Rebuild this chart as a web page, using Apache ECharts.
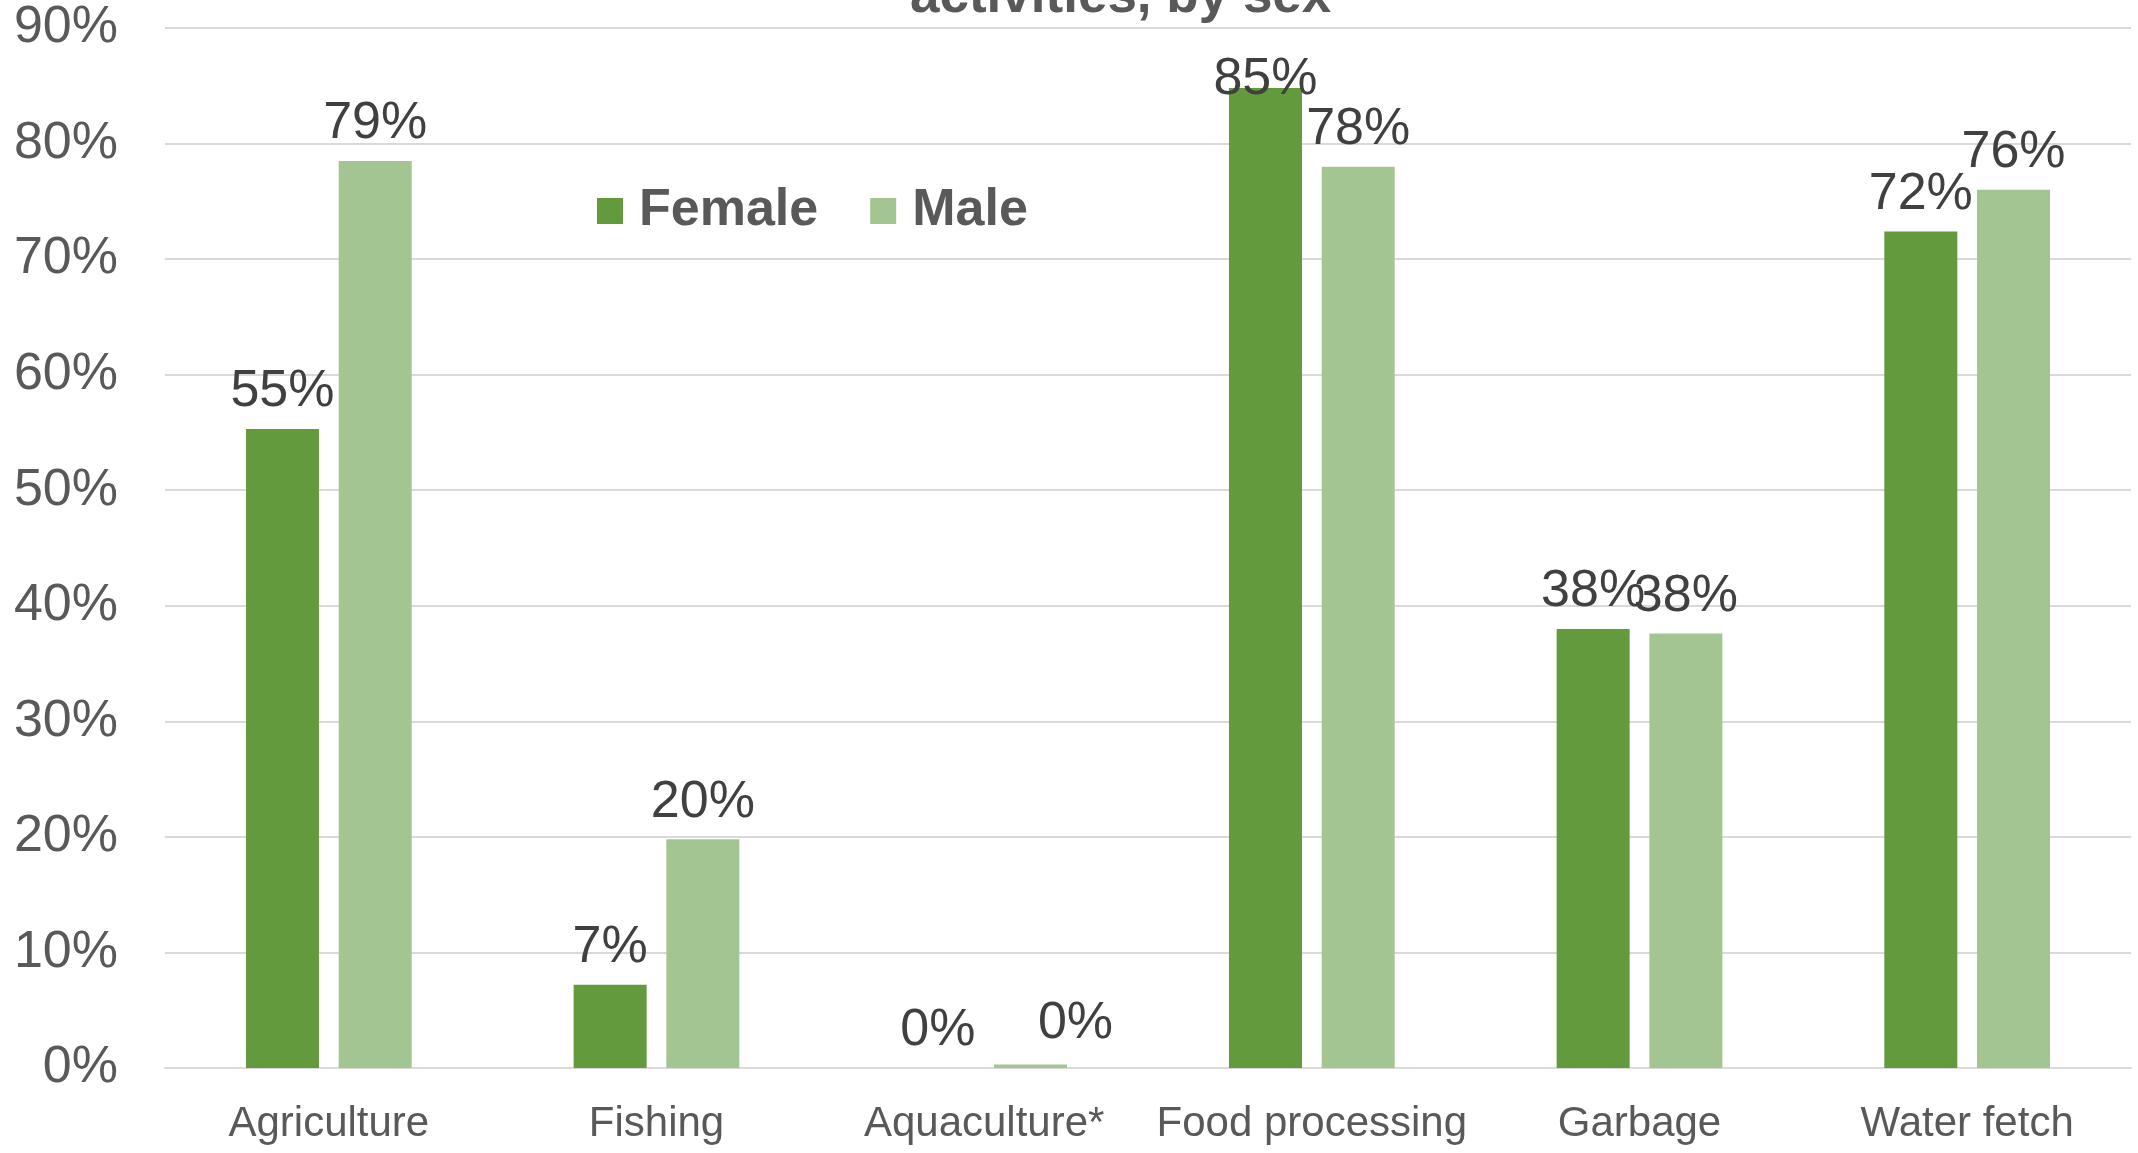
<!DOCTYPE html>
<html>
<head>
<meta charset="utf-8">
<script src="https://cdn.jsdelivr.net/npm/echarts@6/dist/echarts.min.js"></script>
<style>
  html, body { margin: 0; padding: 0; background: #fff; }
  #chart { width: 2138px; height: 1153px; }
</style>
</head>
<body>
<div id="chart"></div>
<script>
const categories = ['Agriculture', 'Fishing', 'Aquaculture*', 'Food processing', 'Garbage', 'Water fetch']
const femaleValues = [55.3, 7.2, 0, 84.8, 38.0, 72.4]
const maleValues = [78.5, 19.8, 0.3, 78.0, 37.6, 76.0]
const yTicks = [0, 10, 20, 30, 40, 50, 60, 70, 80, 90]

const FONT = '"Liberation Sans", Arial, sans-serif'
const AXIS_GREY = '#595959'
const GRID_GREY = '#d9d9d9'

// a couple of labels were nudged by hand in the original chart
const femaleLabelOffsets = { 3: [0, 29] }
const maleLabelOffsets = { 2: [45, -4] }

function withOffsets(values, offsets) {
  return values.map((v, i) => {
    if (!offsets[i]) return v
    return { value: v, label: { offset: offsets[i] } }
  })
}

function barSeries(name, values, color, offsets) {
  return {
    name,
    type: 'bar',
    data: withOffsets(values, offsets),
    barWidth: 73,
    barGap: '27%',
    itemStyle: { color },
    label: {
      show: true,
      position: 'top',
      distance: 11,
      color: '#404040',
      fontFamily: FONT,
      fontSize: 52,
      formatter: p => Math.round(p.value) + '%'
    }
  }
}

function buildOption() {
  return {
    backgroundColor: '#ffffff',
    animation: false,
    title: {
      text: 'activities, by sex',
      left: 905,
      top: -34,
      textStyle: { color: AXIS_GREY, fontFamily: FONT, fontSize: 53, fontWeight: 'bold', lineHeight: 53 }
    },
    legend: {
      left: 592,
      top: 180,
      itemWidth: 26,
      itemHeight: 26,
      itemGap: 52,
      icon: 'rect',
      textStyle: {
        color: AXIS_GREY,
        fontFamily: FONT,
        fontSize: 52,
        fontWeight: 'bold',
        lineHeight: 52,
        padding: [0, 0, 0, 11]
      },
      data: ['Female', 'Male']
    },
    grid: {
      left: 165,
      right: 7,
      top: 28,
      bottom: 85,
      containLabel: false
    },
    xAxis: {
      type: 'category',
      data: categories,
      axisTick: { show: false },
      axisLine: { lineStyle: { color: GRID_GREY, width: 2 } },
      axisLabel: { color: AXIS_GREY, fontFamily: FONT, fontSize: 42, margin: 35, interval: 0 }
    },
    yAxis: {
      type: 'value',
      min: yTicks[0],
      max: yTicks[yTicks.length - 1],
      interval: yTicks[1] - yTicks[0],
      axisLine: { show: false },
      axisTick: { show: false },
      axisLabel: {
        color: AXIS_GREY,
        fontFamily: FONT,
        fontSize: 52,
        margin: 47,
        formatter: '{value}%'
      },
      splitLine: { lineStyle: { color: GRID_GREY, width: 2 } }
    },
    series: [
      barSeries('Female', femaleValues, '#639a3e', femaleLabelOffsets),
      barSeries('Male', maleValues, '#a3c592', maleLabelOffsets)
    ]
  }
}

const chart = echarts.init(document.getElementById('chart'), null, { renderer: 'canvas' })
chart.setOption(buildOption())
</script>
</body>
</html>
